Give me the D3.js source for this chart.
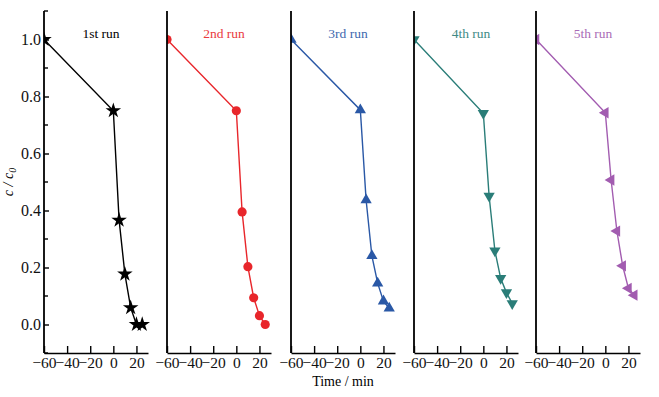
<!DOCTYPE html>
<html>
<head>
<meta charset="utf-8">
<script src="https://cdn.jsdelivr.net/npm/d3@7"></script>
<style>
  body { margin: 0; background: #fff; }
  text { font-family: "Liberation Serif", "DejaVu Serif", serif; }
</style>
</head>
<body>
<div id="chart"></div>
<script>
// data
const times = [-60, 0, 5, 10, 15, 20, 25];
const run1 = [1.0, 0.75, 0.366, 0.177, 0.059, 0.0, 0.0];
const run2 = [1.0, 0.75, 0.395, 0.203, 0.094, 0.031, 0.0];
const run3 = [1.0, 0.753, 0.437, 0.241, 0.145, 0.082, 0.057];
const run4 = [1.0, 0.741, 0.451, 0.259, 0.162, 0.112, 0.074];
const run5 = [1.0, 0.743, 0.507, 0.328, 0.206, 0.127, 0.103];
const runLabels = ["1st run", "2nd run", "3rd run", "4th run", "5th run"];
const runColors = ["#000000", "#e8262b", "#2a58a6", "#2a7d78", "#a25cb0"];
const xTicks = [-60, -40, -20, 0, 20];
const yTicks = [0.0, 0.2, 0.4, 0.6, 0.8, 1.0];
const yMinor = [-0.1, 0.1, 0.3, 0.5, 0.7, 0.9, 1.1];

const runs = [run1, run2, run3, run4, run5];

const W = 659, H = 397;
const plotTop = 11, plotBottom = 353;
const panelW = 104;
const panelLeft = [44, 167, 291, 414, 536];

const svg = d3.select("#chart").append("svg")
    .attr("width", W)
    .attr("height", H);

const y = d3.scaleLinear().domain([-0.1, 1.1]).range([plotBottom, plotTop]);

// marker shapes
const star = d3.symbol().type(d3.symbolStar).size(75);
const circle = d3.symbol().type(d3.symbolCircle).size(66);
const triUp = d3.symbol().type(d3.symbolTriangle).size(55);

runs.forEach((vals, i) => {
    const left = panelLeft[i];
    const x = d3.scaleLinear().domain([-60, 30]).range([left, left + panelW]);
    const color = runColors[i];
    const pts = times.map((t, j) => ({ t: t, v: vals[j] }));

    svg.append("clipPath")
        .attr("id", "clip" + i)
        .append("rect")
        .attr("x", left)
        .attr("y", plotTop - 20)
        .attr("width", panelW + 20)
        .attr("height", plotBottom - plotTop + 40);

    const g = svg.append("g").attr("clip-path", `url(#clip${i})`);

    g.append("path")
        .datum(pts)
        .attr("fill", "none")
        .attr("stroke", color)
        .attr("stroke-width", 1.4)
        .attr("d", d3.line().x(d => x(d.t)).y(d => y(d.v)));

    let sym, rot = 0;
    if (i === 0) sym = star;
    else if (i === 1) sym = circle;
    else { sym = triUp; rot = i === 2 ? 0 : (i === 3 ? 180 : -90); }

    g.selectAll(".m")
        .data(pts)
        .join("path")
        .attr("d", sym)
        .attr("fill", color)
        .attr("transform", d => `translate(${x(d.t)},${y(d.v)}) rotate(${rot})`);

    // x axis, ticks pointing inward
    const xAxis = svg.append("g")
        .attr("transform", `translate(0,${plotBottom})`)
        .call(d3.axisBottom(x).tickValues(xTicks).tickSizeInner(-7).tickSizeOuter(0)
            .tickPadding(4).tickFormat(d3.format("d")));
    xAxis.select(".domain").attr("stroke-width", 1.6);
    xAxis.selectAll(".tick line").attr("stroke-width", 1.4);
    xAxis.selectAll(".tick text")
        .attr("font-family", "Liberation Serif, serif")
        .attr("font-size", 15.5)
        .attr("fill", "#111");

    // y axis line
    svg.append("line")
        .attr("x1", left).attr("x2", left)
        .attr("y1", plotTop).attr("y2", plotBottom)
        .attr("stroke", "#000")
        .attr("stroke-width", 1.8);

    svg.append("text")
        .attr("x", left + 57)
        .attr("y", 38)
        .attr("text-anchor", "middle")
        .attr("font-size", 13.5)
        .attr("fill", color)
        .attr("opacity", i === 0 ? 1 : 0.9)
        .text(runLabels[i]);
});

// y ticks only on first panel
const yAxis = svg.append("g")
    .attr("transform", `translate(${panelLeft[0]},0)`)
    .call(d3.axisLeft(y).tickValues(yTicks).tickSizeInner(-5).tickSizeOuter(0)
        .tickPadding(3).tickFormat(d3.format(".1f")));
yAxis.select(".domain").remove();
yAxis.selectAll(".tick line").attr("stroke-width", 1.4);
yAxis.selectAll(".tick text")
    .attr("font-family", "Liberation Serif, serif")
    .attr("font-size", 16)
    .attr("fill", "#111");

svg.append("g")
    .selectAll("line")
    .data(yMinor)
    .join("line")
    .attr("x1", panelLeft[0]).attr("x2", panelLeft[0] + 4)
    .attr("y1", d => y(d)).attr("y2", d => y(d))
    .attr("stroke", "#000")
    .attr("stroke-width", 1.4);

svg.append("text")
    .attr("x", (panelLeft[2] + panelLeft[2] + panelW) / 2)
    .attr("y", 386)
    .attr("text-anchor", "middle")
    .attr("font-size", 14)
    .text("Time / min");

const yl = svg.append("text")
    .attr("transform", `translate(13,${(plotTop + plotBottom) / 2}) rotate(-90)`)
    .attr("text-anchor", "middle")
    .attr("font-size", 14)
    .attr("font-style", "italic");
yl.append("tspan").text("c / c");
yl.append("tspan").attr("font-size", 10).attr("dy", 3).text("0");
</script>
</body>
</html>
